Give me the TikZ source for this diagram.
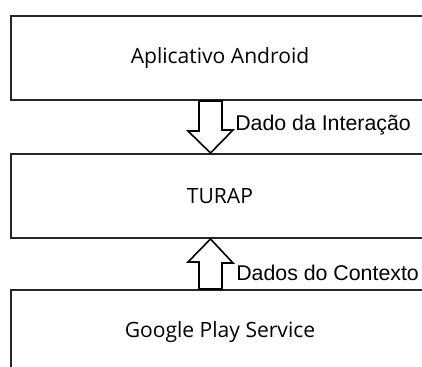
\documentclass[tikz,border=0pt]{standalone}
\usepackage{fontspec}
\setmainfont{Open Sans}
\newfontfamily\rotulofont{Liberation Sans}
\usetikzlibrary{calc}

\begin{document}
\begin{tikzpicture}[x=0.75pt, y=-0.75pt,
    camada/.style={rectangle, draw=black!85, line width=1.5pt, minimum width=313.5pt, minimum height=63pt, font=\fontsize{15.8}{18}\selectfont},
    seta/.style={draw, line width=1.2pt, fill=white, line join=miter},
    rotulo/.style={anchor=base west, inner sep=0pt, font=\rotulofont\fontsize{16}{19}\selectfont}
]
    \useasboundingbox (0,0) rectangle (422,367);
    \clip (0,0) rectangle (422,367);

    % Camadas
    \node [camada] (app) at (220,58) {Aplicativo Android};
    \node [camada] (turap) at (220,196) {TURAP};
    \node [camada] (gps) at (220,332) {Google Play Service};

    % Setas
    \draw [seta] ($(app.south)+(-21,0)$) -- ++(0,30) -- ++(-11,0) -- ($(turap.north)+(-9.5,0)$)
        -- ++(22.5,-23) coordinate (cantoA) -- ++(-11,0) -- ($(app.south)+(2,0)$) -- cycle;
    \draw [seta] ($(gps.north)+(-21,0)$) -- ++(0,-27) -- ++(-11,0) -- ($(turap.south)+(-9.5,0)$)
        -- ++(22.5,24) coordinate (cantoB) -- ++(-11,0) -- ($(gps.north)+(2,0)$) -- cycle;

    % Rotulos
    \node [rotulo] (interacao) at ($(cantoA)+(2,1)$) {Dado da Interação};
    \node [rotulo] (contexto) at ($(cantoB)+(3,18)$) {Dados do Contexto};

\end{tikzpicture}
\end{document}
